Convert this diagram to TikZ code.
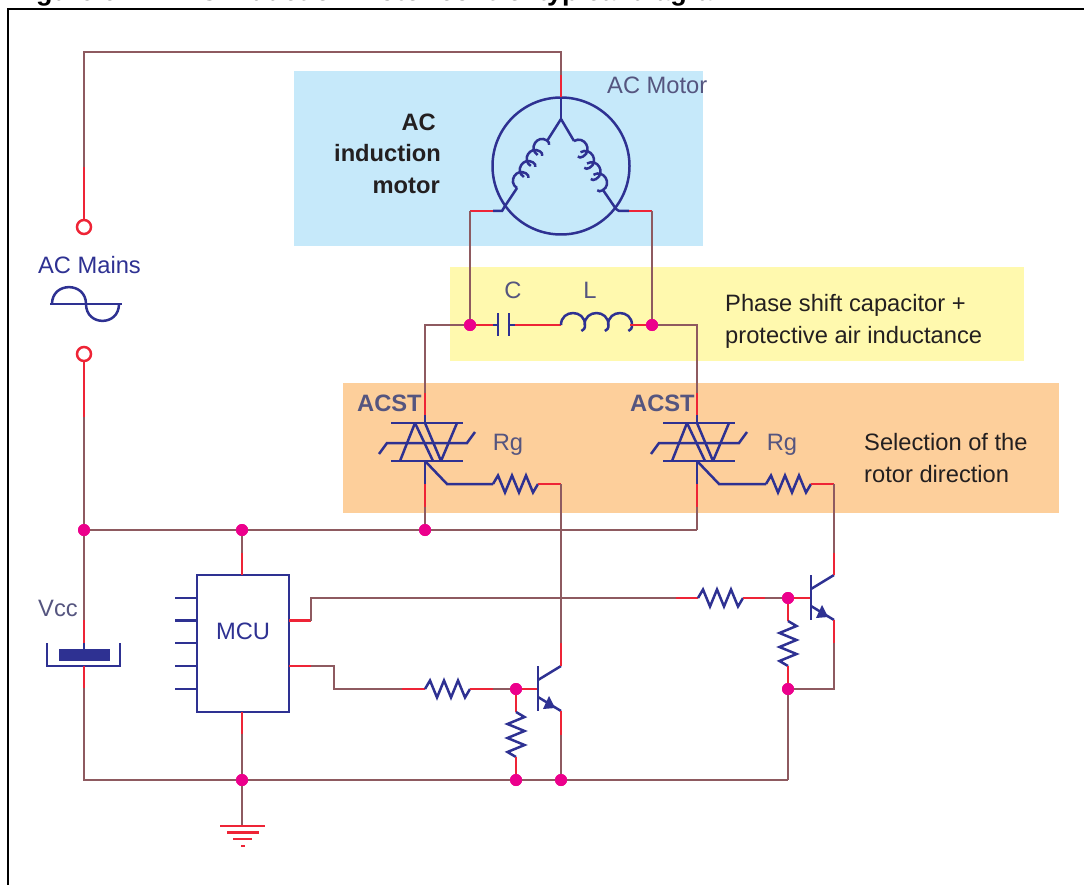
\documentclass[tikz,border=0pt]{standalone}
\usepackage{fontspec}
\setmainfont{Liberation Sans}
\definecolor{wirebrown}{HTML}{8E5A60}
\definecolor{wirered}{HTML}{EE2436}
\definecolor{symblue}{HTML}{2E3192}
\definecolor{dotpink}{HTML}{EC008C}
\definecolor{labgray}{HTML}{55557F}
\definecolor{txtdark}{HTML}{231F20}
\definecolor{zoneblue}{HTML}{C6E9FA}
\definecolor{zoneyellow}{HTML}{FFF9AE}
\definecolor{zoneorange}{HTML}{FDCF9B}
\tikzset{
  br/.style={draw=wirebrown,line width=2.5pt,line join=miter},
  rd/.style={draw=wirered,line width=2.5pt},
  bl/.style={draw=symblue,line width=2.5pt},
  dot/.style={circle,fill=dotpink,inner sep=0pt,minimum size=12pt},
  term/.style={circle,draw=wirered,line width=2.5pt,inner sep=0pt,minimum size=14pt},
  lab/.style={font=\fontsize{23.7}{28}\selectfont,inner sep=0pt},
  graylab/.style={lab,text=labgray},
  bluelab/.style={lab,text=symblue},
  darklab/.style={lab,text=txtdark,align=left,anchor=west},
}
% zigzag resistor along +x in local frame, 45 long
\newcommand{\zigres}{(0,0) -- (5,-8.5) -- (12,8.5) -- (19,-8.5) -- (26,8.5) -- (33,-8.5) -- (40,8.5) -- (45,0)}
% triac at local origin = (x of terminal, y of top bar)
\newcommand{\triacsym}{%
  \draw[bl] (-34,0) -- (38,0);
  \draw[bl] (-34,38) -- (38,38);
  \draw[bl] (-46,31) -- (-38,20) -- (42,20) -- (50,9);
  \draw[bl] (-10,0) -- (-25,38);
  \draw[bl] (-10,0) -- (8,38);
  \draw[bl] (0,0) -- (16,38);
  \draw[bl] (32,0) -- (16,38);
}
% transistor with base bar at local x=0, local y=0 on the base wire
\newcommand{\npnsym}{%
  \draw[bl] (0,-23) -- (0,22);
  \draw[bl] (0,-9) -- (23,-23);
  \draw[bl] (0,8) -- (23,22);
  \fill[symblue] (5,20) -- (17,19) -- (11,7) -- cycle;
}
\newcommand{\hump}[2]{% start x, radius
  (#1,0) .. controls (#1,-1.33*#2) and (#1+2*#2,-1.33*#2) .. (#1+2*#2,0) .. controls (#1+2*#2,0.3*#2) and (#1+1.9*#2,0.4*#2) .. (#1+1.7*#2,0.5*#2)
}
\begin{document}
\begin{tikzpicture}[x=1pt,y=-1pt]
\useasboundingbox (0,0) rectangle (1084,885);
\clip (0,0) rectangle (1084,885);
% title, cut by the top edge of the picture as in the reference
\node[anchor=base west,inner sep=0pt,font=\bfseries\fontsize{27}{30}\selectfont,text=black] (title) at (12,0.5)
  {Figure 6.\hspace{55pt}AC induction motor control typical diagram};
% frame
\draw[black,line width=2.4pt] (1084,9) -- (8,9) -- (8,885);
% zones
\fill[zoneblue] (294,71) rectangle (703,246);
\fill[zoneyellow] (450,267) rectangle (1024,361);
\fill[zoneorange] (343,383) rectangle (1059,513);

% ---- named points
\node[dot] (jC) at (470,325) {};
\node[dot] (jL) at (652,325) {};
\node[dot] (jA) at (84,530) {};
\node[dot] (jB) at (242,530) {};
\node[dot] (jT) at (425,530) {};
\node[dot] (jG) at (242,780) {};
\node[dot] (jR) at (516,780) {};
\node[dot] (jE) at (561,780) {};
\node[dot] (jQa) at (516,689) {};
\node[dot] (jQb) at (788,598) {};
\node[dot] (jQc) at (788,689) {};
\node[term] (acT) at (84,227) {};
\node[term] (acB) at (84,354) {};
\coordinate (mCen) at (561,119);

% motor
\node[circle,draw=symblue,line width=2.5pt,outer sep=0pt,minimum size=137pt,inner sep=0pt] (motor) at (561,166) {};
\coordinate (w0) at (84,167);
\draw[rd] (w0) -- (acT.north);
\draw[br] (w0) -- (84,52) -- (561,52) -- (561,75) coordinate (w1);
\draw[rd] (w1) -- (motor.north);
\draw[bl] (motor.north) -- (mCen);
\draw[bl] (mCen) -- (547,141);
\draw[bl] (mCen) -- (574,141);
\draw[bl] (517,188) -- (505,206) -- (502,211) -- (493,211) coordinate (w2);
\draw[bl] (603,190) -- (616,209) -- (619,211) -- (629,211) coordinate (w3);
\begin{scope}[shift={(517,188)},rotate=58]
  \draw[bl] \hump{0}{8.6} \hump{13}{8.6} \hump{26}{8.6} \hump{39}{8.6} ;
\end{scope}
\begin{scope}[shift={(574,141)},rotate=-60]
  \draw[bl] \hump{0}{9} \hump{13}{9} \hump{26}{9} \hump{39}{9} ;
\end{scope}
\draw[rd] (w2) -- (470,211) coordinate (w4);
\draw[br] (w4) -- (jC);
\draw[rd] (w3) -- (652,211) coordinate (w5);
\draw[br] (w5) -- (jL);

% C and L branch
\draw[br] (jC) -- (425,325) -- (425,393) coordinate (t1a);
\draw[rd] (jC) -- (493,325) coordinate (c1);
\draw[bl] (c1) -- (498,325);
\draw[bl] (498,313) -- (498,336);
\draw[bl] (509,313) -- (509,336);
\draw[bl] (509,325) -- (515,325) coordinate (c2);
\draw[rd] (c2) -- (561,325) coordinate (l1);
\begin{scope}[shift={(l1)}]
  \draw[bl] \hump{0}{12} \hump{23.5}{12} \hump{47}{12} ;
\end{scope}
\draw[rd] (630,325) coordinate (l2) -- (jL);
\draw[br] (jL) -- (697,325) -- (697,393) coordinate (t2a);

% triac 1
\coordinate (t1) at (425,423);
\draw[rd] (t1a) -- (425,415) coordinate (t1b);
\draw[bl] (t1b) -- (t1);
\begin{scope}[shift={(t1)}] \triacsym \end{scope}
\draw[bl] (425,461) coordinate (t1c) -- (425,484) coordinate (t1d);
\draw[rd] (t1d) -- (425,507) coordinate (t1e);
\draw[br] (t1e) -- (jT);
\draw[bl] (t1c) -- (447,484) -- (493,484) coordinate (g1a);
\begin{scope}[shift={(g1a)}] \draw[bl] \zigres; \end{scope}
\draw[rd] (538,484) coordinate (g1b) -- (561,484) coordinate (g1c);
% triac 2
\coordinate (t2) at (697,423);
\draw[rd] (t2a) -- (697,415) coordinate (t2b);
\draw[bl] (t2b) -- (t2);
\begin{scope}[shift={(t2)}] \triacsym \end{scope}
\draw[bl] (697,461) coordinate (t2c) -- (697,484) coordinate (t2d);
\draw[rd] (t2d) -- (697,507) coordinate (t2e);
\draw[br] (t2e) -- (697,530) coordinate (busEnd);
\draw[bl] (t2c) -- (719,484) -- (766,484) coordinate (g2a);
\begin{scope}[shift={(g2a)}] \draw[bl] \zigres; \end{scope}
\draw[rd] (811,484) coordinate (g2b) -- (834,484) coordinate (g2c);

% bus
\draw[br] (jA) -- (jB) -- (jT) -- (busEnd);
\draw[rd] (acB.south) -- (84,417) coordinate (b1);
\draw[br] (b1) -- (jA);
\draw[br] (jA) -- (84,620) coordinate (v1);
\draw[rd] (v1) -- (84,643) coordinate (v2);
\draw[bl] (v2) -- (84,649);
\fill[symblue] (59,649) rectangle (110,661);
\draw[bl] (47,643) -- (47,666) -- (120,666) -- (120,643);
\draw[rd] (84,666) coordinate (v3) -- (84,688) coordinate (v4);
\draw[br] (v4) -- (84,780) -- (jG);
\draw[br] (jG) -- (jR) -- (jE) -- (788,780) coordinate (botEnd);

% AC source symbol
\draw[bl] (50,304) -- (122,304);
\draw[bl] (52,304) .. controls (52,281.5) and (86,281.5) .. (86,304);
\draw[bl] (86,304) .. controls (86,326.5) and (119,326.5) .. (119,304);

% MCU
\node[draw=symblue,line width=2.5pt,outer sep=0pt,minimum width=92pt,minimum height=137pt,inner sep=0pt,anchor=north west] (mcu) at (197,575) {};
\node[bluelab] (mcuText) at (243,631) {MCU};
\foreach \y in {598,620.5,643,666,689} \draw[bl] (175,\y) -- (197,\y);
\draw[br] (jB) -- (242,553) coordinate (m1);
\draw[rd] (m1) -- (m1 |- mcu.north);
\draw[rd] (m1 |- mcu.south) -- (242,734) coordinate (m2);
\draw[br] (m2) -- (jG);
\draw[br] (jG) -- (242,825) coordinate (gnd);
\draw[rd] (220,826) -- (265,826);
\draw[rd] (227,832.5) -- (259,832.5);
\draw[rd] (233,839) -- (252,839);
\draw[rd] (241,846) -- (245,846);

% MCU out 1
\draw[rd] (289,620.5) coordinate (o1) -- (311,620.5) coordinate (o1b);
\draw[br] (o1b) -- (311,598) -- (676,598) coordinate (o1c);
\draw[rd] (o1c) -- (698,598) coordinate (o1d);
\begin{scope}[shift={(o1d)}] \draw[bl] \zigres; \end{scope}
\draw[rd] (743,598) coordinate (o1e) -- (765,598) coordinate (o1f);
\draw[br] (o1f) -- (jQb);
\coordinate (q2) at (811,598);
\draw[rd] (jQb) -- (q2);
\begin{scope}[shift={(q2)}] \npnsym \end{scope}
\draw[rd] (834,575) -- (834,553) coordinate (q2c);
\draw[br] (q2c) -- (g2c);
\draw[rd] (834,620) -- (834,643) coordinate (q2e);
\draw[br] (q2e) -- (834,689) -- (jQc);
\draw[rd] (jQb) -- (788,621) coordinate (r2a);
\begin{scope}[shift={(r2a)},rotate=-90] \draw[bl] \zigres; \end{scope}
\draw[rd] (788,666) coordinate (r2b) -- (jQc);
\draw[br] (jQc) -- (botEnd);

% MCU out 2
\draw[rd] (289,666) coordinate (o2) -- (311,666) coordinate (o2b);
\draw[br] (o2b) -- (334,666) -- (334,689) -- (402,689) coordinate (o2c);
\draw[rd] (o2c) -- (425,689) coordinate (o2d);
\begin{scope}[shift={(o2d)}] \draw[bl] \zigres; \end{scope}
\draw[rd] (470,689) coordinate (o2e) -- (493,689) coordinate (o2f);
\draw[br] (o2f) -- (jQa);
\coordinate (q1) at (538,689);
\draw[rd] (jQa) -- (q1);
\begin{scope}[shift={(q1)}] \npnsym \end{scope}
\draw[rd] (561,666) -- (561,643) coordinate (q1c);
\draw[br] (q1c) -- (g1c);
\draw[rd] (561,711) -- (561,735) coordinate (q1e);
\draw[br] (q1e) -- (jE);
\draw[rd] (jQa) -- (516,712) coordinate (r1a);
\begin{scope}[shift={(r1a)},rotate=-90] \draw[bl] \zigres; \end{scope}
\draw[rd] (516,757) coordinate (r1b) -- (jR);

% redraw pink dots over wires
\foreach \n in {jC,jL,jA,jB,jT,jG,jR,jE,jQa,jQb,jQc} \fill[dotpink] (\n) circle[radius=6pt];

% labels
\node[graylab,anchor=west] (lMotor) at (607,85) {AC Motor};
\node[lab,font=\bfseries\fontsize{23.7}{31.5}\selectfont,text=txtdark,align=right,anchor=north east] (lInd) at (441,113.5) {AC\kern5pt\\induction\\motor\kern1pt};
\node[bluelab] (lMains) at (89.5,265) {AC Mains};
\node[graylab] (lC) at (513,290) {C};
\node[graylab] (lL) at (590,290) {L};
\node[darklab,font=\fontsize{23.7}{31.7}\selectfont] (lPhase) at (725,321.5) {Phase shift capacitor +\\protective air inductance};
\node[darklab,font=\fontsize{23.7}{31.2}\selectfont] (lSel) at (864,458) {Selection of the\\rotor direction};
\node[graylab,font=\bfseries\fontsize{23.7}{28}\selectfont,anchor=west] (lA1) at (357,403) {ACST};
\node[graylab,font=\bfseries\fontsize{23.7}{28}\selectfont,anchor=west] (lA2) at (630,403) {ACST};
\node[graylab] (lR1) at (508,445) {Rg};
\node[graylab] (lR2) at (782,445) {Rg};
\node[graylab] (lV) at (58,608) {Vcc};
\end{tikzpicture}
\end{document}
